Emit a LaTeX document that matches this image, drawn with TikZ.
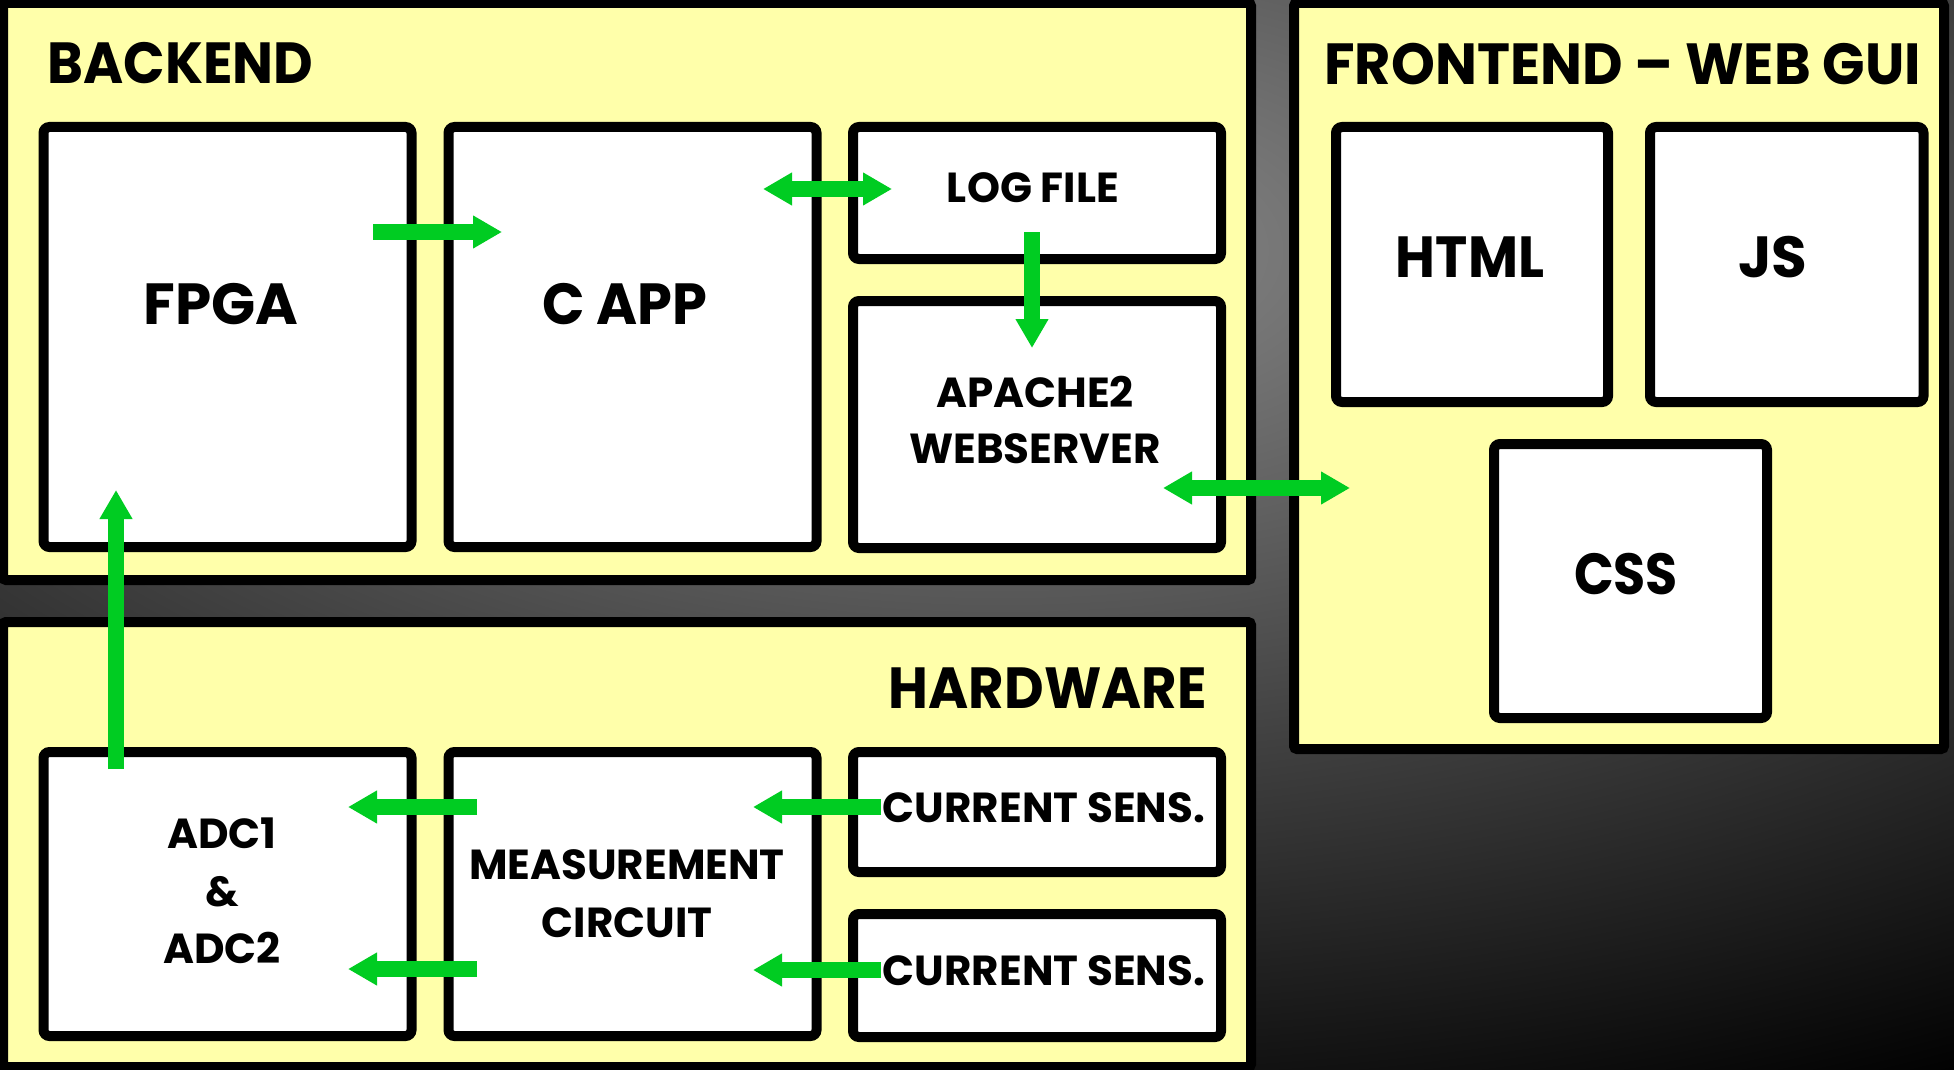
\documentclass[tikz,border=0pt]{standalone}
\usepackage{fontspec}
\setmainfont{Poppins}
\newfontfamily\narrowf{Poppins}[FakeStretch=0.94]
\newfontfamily\semif{Poppins}[FakeStretch=0.962]
\newfontfamily\tightf{Poppins}[FakeStretch=0.9]
\usetikzlibrary{arrows.meta}
\definecolor{panelY}{HTML}{FFFFAA}
\definecolor{arrG}{HTML}{00CC22}
\definecolor{bgIn}{HTML}{8A8A8A}
\begin{document}
\begin{tikzpicture}[x=0.5pt,y=-0.5pt,
  panel/.style={draw=black, line width=5pt, fill=panelY, rounded corners=1.5pt},
  box/.style={draw=black, line width=5pt, fill=white, rounded corners=3pt, inner sep=0pt, anchor=north west},
  title/.style={font=\fontsize{29}{32}\selectfont\narrowf\bfseries, inner sep=0pt},
  big/.style={font=\fontsize{29}{32}\selectfont\bfseries, inner sep=0pt},
  mid/.style={font=\fontsize{21}{29}\selectfont\bfseries, align=center, inner sep=0pt},
  tip/.tip={Triangle[length=14.5pt,width=15.5pt]},
  arr/.style={draw=arrG, line width=8pt, -tip},
  darr/.style={draw=arrG, line width=8pt, tip-tip},
]
\useasboundingbox (0,0) rectangle (1954,1070);
% background
\begin{scope}
\clip (0,0) rectangle (1954,1070);
\fill[black] (0,0) rectangle (1954,1070);
\shade[inner color=bgIn, outer color=black] (1000,250) ellipse [x radius=2000, y radius=950];
\end{scope}
% panels
\draw[panel] (3,3) rectangle (1251,580);
\draw[panel] (3,622) rectangle (1251,1067);
\draw[panel] (1294,3) rectangle (1944,749);
% titles
\node[title, anchor=base west] (tback) at (47,84) {BACKEND};
\node[title, anchor=base west, font=\fontsize{29}{32}\selectfont\semif\bfseries] (tfront) at (1324,85) {FRONTEND – WEB GUI};
\node[title, anchor=base east] (thard) at (1207,708) {HARDWARE};
% backend boxes
\node[box, minimum width=184pt, minimum height=210pt] (fpga) at (38.5,122) {};
\node[box, minimum width=184pt, minimum height=210pt] (capp) at (443.5,122) {};
\node[box, minimum width=184pt, minimum height=66pt] (log) at (848,122) {};
\node[box, minimum width=184pt, minimum height=123.5pt] (apache) at (848,296) {};
% frontend boxes
\node[box, minimum width=136pt, minimum height=137.5pt] (html) at (1331,122) {};
\node[box, minimum width=136.75pt, minimum height=137.5pt] (js) at (1645,122) {};
\node[box, minimum width=136.5pt, minimum height=137pt] (css) at (1489,439) {};
% hardware boxes
\node[box, minimum width=184pt, minimum height=142pt] (adc) at (38.5,747) {};
\node[box, minimum width=184pt, minimum height=142pt] (meas) at (443.5,747) {};
\node[box, minimum width=184pt, minimum height=60pt] (cs1) at (848,747) {};
\node[box, minimum width=184pt, minimum height=61.5pt] (cs2) at (848,909) {};
% box texts
\node[big, anchor=base] (tfpga) at (221,324) {FPGA};
\node[big, anchor=base, font=\fontsize{29}{32}\selectfont\semif\bfseries] (tcapp) at (625,324) {C APP};
\node[mid, anchor=base] (tlog) at (1033,202) {LOG FILE};
\node[mid, font=\fontsize{21}{28}\selectfont\bfseries] (tapache) at (1035,420) {APACHE2\\WEBSERVER};
\node[big, anchor=base, font=\fontsize{29}{32}\selectfont\narrowf\bfseries] (thtml) at (1470,277) {HTML};
\node[big, anchor=base] (tjs) at (1773,277) {JS};
\node[big, anchor=base, font=\fontsize{29}{32}\selectfont\tightf\bfseries] (tcss) at (1626,594) {CSS};
\node[mid, font=\fontsize{21}{28.75}\selectfont\bfseries] (tadc) at (222,891) {ADC1\\\&\\ADC2};
\node[mid] (tmeas) at (627,894) {MEASUREMENT\\CIRCUIT};
\node[mid, anchor=base] (tcs1) at (1044,822) {CURRENT SENS.};
\node[mid, anchor=base] (tcs2) at (1044,985) {CURRENT SENS.};
% arrow end points
\coordinate (a1s) at (373,232); \coordinate (a1e) at (502,232);
\coordinate (a2s) at (763,189); \coordinate (a2e) at (892,189);
\coordinate (a3s) at (1032,232); \coordinate (a3e) at (1032,348);
\coordinate (a4s) at (1163,488); \coordinate (a4e) at (1350,488);
\coordinate (a5s) at (116,769); \coordinate (a5e) at (116,490);
\coordinate (a6s) at (477,807); \coordinate (a6e) at (348,807);
\coordinate (a7s) at (477,969); \coordinate (a7e) at (348,969);
\coordinate (a8s) at (881,807); \coordinate (a8e) at (753,807);
\coordinate (a9s) at (881,970); \coordinate (a9e) at (753,970);
\draw[arr] (a1s) -- (a1e);
\draw[darr] (a2s) -- (a2e);
\draw[arr] (a3s) -- (a3e);
\draw[darr] (a4s) -- (a4e);
\draw[arr] (a5s) -- (a5e);
\draw[arr] (a6s) -- (a6e);
\draw[arr] (a7s) -- (a7e);
\draw[arr] (a8s) -- (a8e);
\draw[arr] (a9s) -- (a9e);
\end{tikzpicture}
\end{document}
